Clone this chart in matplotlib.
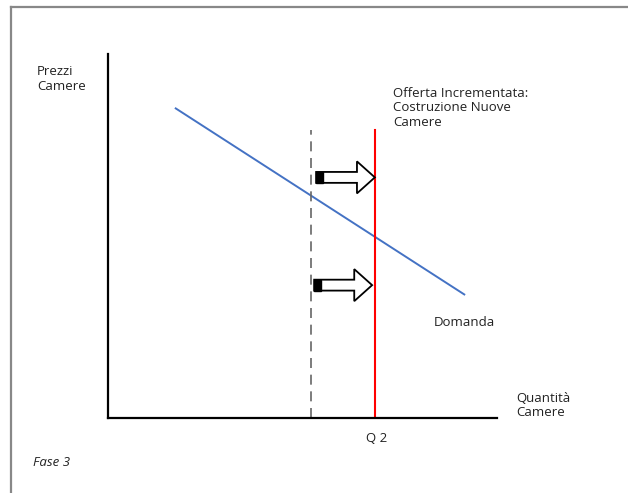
import matplotlib
matplotlib.use("Agg")
import matplotlib.pyplot as plt
from matplotlib.patches import FancyArrow, Rectangle
from matplotlib.lines import Line2D

# Schematic supply/demand data (arbitrary units, axes span 0..100)
demand_x = [17.2, 91.8]
demand_y = [85.2, 33.8]
q1 = 52.2          # old supply (dashed)
q2 = 68.6          # increased supply
supply_top = 79.0
arrow_y = [66.1, 36.5]
arrow_start = [53.5, 53.0]
arrow_end = [68.6, 67.9]

plt.rcParams['font.family'] = ['Open Sans', 'DejaVu Sans']

W, H = 628, 493
fig = plt.figure(figsize=(W / 100, H / 100), dpi=100)

# frame lines (top and left only visible)
fig.add_artist(Line2D([11 / W, 1], [1 - 7 / H, 1 - 7 / H], color='#888888', lw=1.6))
fig.add_artist(Line2D([11 / W, 11 / W], [0, 1 - 7 / H], color='#888888', lw=1.6))

# main axes: left=108, right=497, top=54, bottom=418 (px)
ax = fig.add_axes([108 / W, 1 - 418 / H, (497 - 108) / W, (418 - 54) / H])
ax.set_xlim(0, 100)
ax.set_ylim(0, 100)
for s in ['top', 'right']:
    ax.spines[s].set_visible(False)
for s in ['left', 'bottom']:
    ax.spines[s].set_linewidth(1.6)
    ax.spines[s].set_color('black')
ax.set_xticks([])
ax.set_yticks([])
ax.patch.set_alpha(0)

ax.plot(demand_x, demand_y, color='#4472C4', lw=1.4, solid_capstyle='butt')
ax.plot([q1, q1], [0, supply_top], color='#666666', lw=1.2, dashes=(6, 4))
ax.plot([q2, q2], [0, supply_top], color='#FF0000', lw=1.5)

body_w = 3.0
head_w = 8.8
head_l = 4.6
tail_l = 1.7
for y, x0, x1 in zip(arrow_y, arrow_start, arrow_end):
    ax.add_patch(FancyArrow(x0, y, x1 - x0, 0, width=body_w, head_width=head_w,
                            head_length=head_l, length_includes_head=True,
                            facecolor='white', edgecolor='black', lw=1.3, zorder=3))
    ax.add_patch(Rectangle((x0, y - body_w / 2), tail_l, body_w, facecolor='black',
                           edgecolor='black', lw=1.0, zorder=4))

fs = 9.5
fig.text(37 / W, 1 - 79 / H, 'Prezzi\nCamere', fontsize=fs, ha='left', va='center',
         linespacing=1.22, color='#222222')
fig.text(393 / W, 1 - 108 / H, 'Offerta Incrementata:\nCostruzione Nuove\nCamere',
         fontsize=fs, ha='left', va='center', linespacing=1.18, color='#222222')
fig.text(434 / W, 1 - 323 / H, 'Domanda', fontsize=fs, ha='left', va='center',
         color='#222222')
fig.text(516 / W, 1 - 406 / H, 'Quantità\nCamere', fontsize=fs, ha='left', va='center',
         linespacing=1.1, color='#222222')
fig.text(377 / W, 1 - 438 / H, 'Q 2', fontsize=fs, ha='center', va='center',
         color='#222222')
fig.text(33 / W, 1 - 462 / H, 'Fase 3', fontsize=fs, ha='left', va='center',
         style='italic', color='#222222')

fig.savefig('out.png', dpi=100)
